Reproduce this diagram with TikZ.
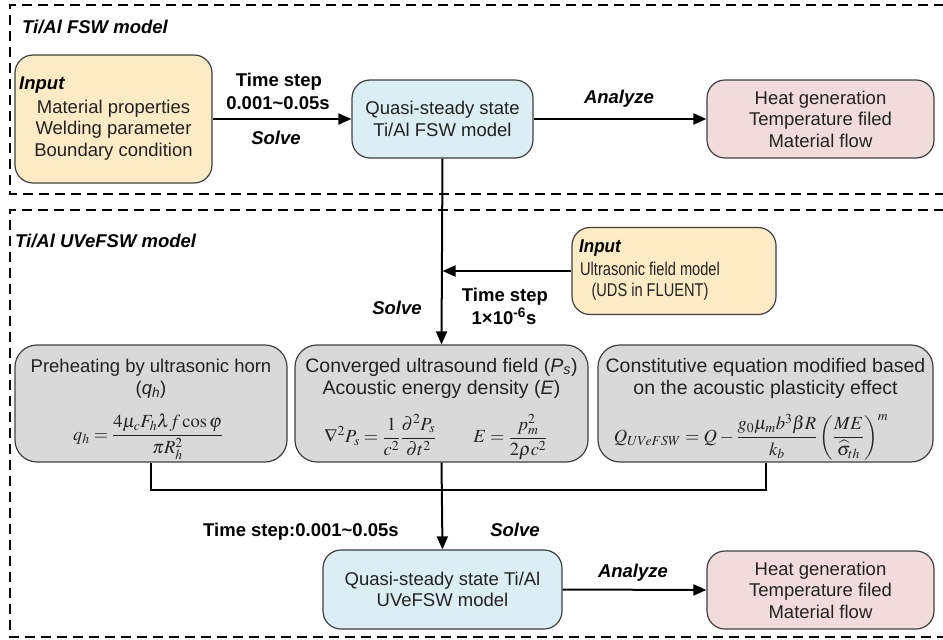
\documentclass[tikz,border=0pt]{standalone}
\usepackage{mathptmx}
\usepackage[no-math]{fontspec}
\setmainfont{Liberation Sans}
\usetikzlibrary{arrows.meta}
\definecolor{cyel}{HTML}{FDEBC6}
\definecolor{cblue}{HTML}{DAEEF3}
\definecolor{cpink}{HTML}{F2DCDB}
\definecolor{cgray}{HTML}{D9D9D9}
\definecolor{cbord}{HTML}{404040}
\definecolor{ctext}{HTML}{222222}
\newcommand{\cnd}[1]{\scalebox{0.79}[1]{#1}}
\begin{document}
\begin{tikzpicture}[x=1pt,y=-1pt,
 font=\fontsize{18.5}{21.5}\selectfont,
 box/.style={draw=cbord, line width=1.2pt, rounded corners=18pt, inner sep=0pt},
 ybox/.style={box, fill=cyel},
 bbox/.style={box, fill=cblue, align=center, text=ctext},
 pbox/.style={box, fill=cpink, align=center, text=ctext},
 gbox/.style={box, fill=cgray, rounded corners=22pt},
 txt/.style={inner sep=0pt, align=center, text=ctext},
 bigtxt/.style={txt, font=\fontsize{19.5}{22}\selectfont},
 lbl/.style={inner sep=0pt, font=\fontsize{18.5}{21.5}\selectfont\bfseries},
 ilbl/.style={inner sep=0pt, font=\fontsize{18.5}{21.5}\selectfont\bfseries\itshape},
 arr/.style={line width=2pt, -{Triangle[length=13pt,width=11pt]}},
 conn/.style={line width=2pt},
 frame/.style={line width=2.2pt, dash pattern=on 10pt off 6pt}
]
\useasboundingbox (0,0) rectangle (943,640);
\begin{scope}
\clip (0,0) rectangle (943,640);
\draw[frame] (960,5) -- (10,5) -- (10,194) -- (960,194);
\draw[frame] (960,210) -- (10,210) -- (10,637) -- (960,637);
\end{scope}
\node[ilbl, anchor=west] (t1) at (22,27) {Ti/Al FSW model};
\node[ilbl, anchor=west] (t2) at (15,241) {Ti/Al UVeFSW model};

% top row
\node[ybox, minimum width=197pt, minimum height=128pt] (in1) at (113.5,119) {};
\node[txt] (in1t) at (113.5,130) {Material properties\\Welding parameter\\Boundary condition};
\node[ilbl, anchor=west] (in1l) at (19,85) {Input};
\node[bbox, minimum width=181pt, minimum height=78pt] (q1) at (442.5,119) {Quasi-steady state\\Ti/Al FSW model};
\node[pbox, minimum width=227pt, minimum height=78pt] (h1) at (820.5,119) {Heat generation\\Temperature filed\\Material flow};

% second input
\node[ybox, minimum width=204pt, minimum height=87pt] (in2) at (674,271) {};
\node[txt] (in2t) at (650,281) {\cnd{Ultrasonic field model}\\\cnd{(UDS in FLUENT)}};
\node[ilbl, anchor=west] (in2l) at (579,248) {\scalebox{0.92}[1]{Input}};

% gray boxes
\node[gbox, minimum width=272pt, minimum height=117pt] (A) at (151,403.5) {};
\node[gbox, minimum width=293pt, minimum height=117pt] (B) at (441.5,403.5) {};
\node[gbox, minimum width=335pt, minimum height=117pt] (C) at (765.5,403.5) {};
\node[txt] (At) at (151,378.5) {Preheating by ultrasonic horn\\(\textit{q}\textsubscript{\textit{h}})};
\node[txt] (Af) at (148,437) {$\displaystyle q_h=\frac{4\mu_c F_h\lambda f\cos\varphi}{\pi R_h^2}$};
\node[bigtxt] (Bt) at (441.5,378) {Converged ultrasound field (\textit{P}\textsubscript{\textit{s}})\\Acoustic energy density (\textit{E})};
\node[txt] (Bf) at (436,437) {$\displaystyle \nabla^2P_s=\frac{1}{c^2}\frac{\partial^2P_s}{\partial t^2}\qquad E=\frac{p_m^2}{2\rho c^2}$};
\node[bigtxt] (Ct) at (765.5,378) {Constitutive equation modified based\\on the acoustic plasticity effect};
\node[txt] (Cf) at (751,437) {$\displaystyle Q_{UVeFSW}=Q-\frac{g_0\mu_m b^3\beta R}{k_b}\left(\frac{ME}{\widehat{\sigma}_{th}}\right)^{m}$};

% bottom row
\node[bbox, minimum width=239pt, minimum height=79pt] (q2) at (442.5,589.5) {Quasi-steady state Ti/Al\\UVeFSW model};
\node[pbox, minimum width=227pt, minimum height=78pt] (h2) at (820.5,590) {Heat generation\\Temperature filed\\Material flow};

% connectors
\draw[arr] (in1.east) -- (q1.west);
\draw[arr] (q1.east) -- (h1.west);
\draw[arr] (q1.south) -- (B.north);
\draw[arr] (in2.west) -- (in2.west -| q1.south);
\draw[conn] (A.south) -- ++(0,27) -| (C.south);
\draw[arr] (B.south) -- (q2.north);
\draw[arr] (q2.east) -- (h2.west);

% labels
\node[lbl] (l1) at (279,82) {Time step};
\node[lbl] (l2) at (278,103) {0.001\textasciitilde0.05s};
\node[ilbl] (l3) at (276,138) {Solve};
\node[ilbl] (l4) at (619,99) {Analyze};
\node[ilbl] (l5) at (397,308) {Solve};
\node[lbl] (l6) at (505,297) {Time step};
\node[lbl] (l7) at (504,316) {1×10\textsuperscript{-6}s};
\node[lbl] (l8) at (301,532) {Time step:0.001\textasciitilde0.05s};
\node[ilbl] (l9) at (515,530) {Solve};
\node[ilbl] (l10) at (633,573) {Analyze};
\end{tikzpicture}
\end{document}
